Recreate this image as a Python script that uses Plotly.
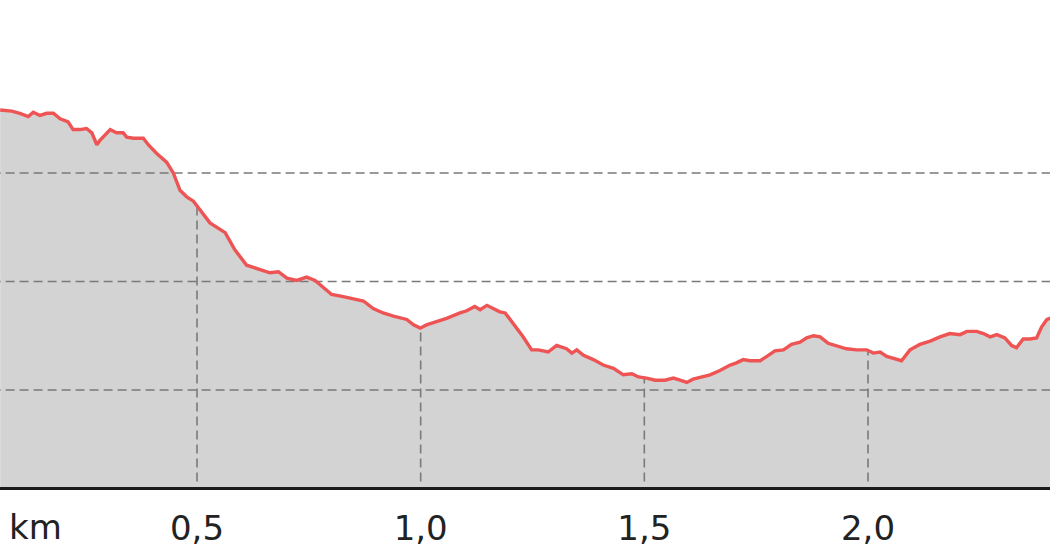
import numpy as np
import plotly.graph_objects as go

# Distance along the route (km) and elevation (m)
distance_km = [
    0.060, 0.086, 0.104, 0.123, 0.134, 0.149, 0.164, 0.179, 0.194, 0.212,
    0.223, 0.238, 0.253, 0.265, 0.276, 0.283, 0.306, 0.320, 0.335, 0.343,
    0.358, 0.380, 0.391, 0.410, 0.432, 0.447, 0.462, 0.477, 0.492, 0.507,
    0.529, 0.563, 0.585, 0.611, 0.633, 0.663, 0.682, 0.701, 0.723, 0.745,
    0.764, 0.782, 0.801, 0.827, 0.849, 0.872, 0.894, 0.916, 0.939, 0.969,
    0.984, 0.999, 1.013, 1.028, 1.058, 1.088, 1.103, 1.121, 1.133, 1.148,
    1.162, 1.177, 1.189, 1.207, 1.229, 1.248, 1.263, 1.285, 1.304, 1.326,
    1.338, 1.349, 1.364, 1.386, 1.408, 1.431, 1.453, 1.472, 1.487, 1.505,
    1.524, 1.546, 1.565, 1.580, 1.595, 1.609, 1.628, 1.647, 1.669, 1.692,
    1.706, 1.721, 1.736, 1.759, 1.774, 1.792, 1.811, 1.829, 1.848, 1.863,
    1.878, 1.893, 1.911, 1.930, 1.952, 1.975, 1.997, 2.012, 2.027, 2.042,
    2.057, 2.075, 2.094, 2.116, 2.139, 2.161, 2.183, 2.206, 2.221, 2.243,
    2.258, 2.273, 2.288, 2.306, 2.321, 2.332, 2.347, 2.362, 2.377, 2.388,
    2.400, 2.407, 2.420,
]
elevation_m = [
    55.8, 55.7, 55.5, 55.2, 55.6, 55.3, 55.5, 55.5, 55.0, 54.7,
    54.0, 54.0, 54.1, 53.7, 52.6, 53.0, 54.0, 53.7, 53.7, 53.3,
    53.2, 53.2, 52.6, 51.8, 51.0, 50.0, 48.4, 47.8, 47.4, 46.6,
    45.4, 44.5, 42.9, 41.5, 41.2, 40.8, 40.9, 40.3, 40.1, 40.4,
    40.1, 39.5, 38.8, 38.6, 38.4, 38.2, 37.5, 37.1, 36.8, 36.5,
    36.0, 35.7, 36.0, 36.2, 36.6, 37.1, 37.3, 37.7, 37.4, 37.8,
    37.5, 37.2, 37.1, 36.1, 34.9, 33.7, 33.7, 33.5, 34.1, 33.8,
    33.4, 33.7, 33.2, 32.8, 32.3, 32.0, 31.4, 31.5, 31.2, 31.1,
    30.9, 30.9, 31.1, 30.9, 30.7, 31.0, 31.2, 31.4, 31.8, 32.3,
    32.5, 32.8, 32.7, 32.7, 33.1, 33.6, 33.7, 34.2, 34.4, 34.8,
    35.0, 34.9, 34.3, 34.1, 33.8, 33.7, 33.7, 33.4, 33.5, 33.1,
    32.9, 32.7, 33.7, 34.2, 34.5, 34.9, 35.2, 35.1, 35.4, 35.4,
    35.2, 34.9, 35.1, 34.8, 34.1, 33.9, 34.7, 34.7, 34.8, 35.8,
    36.5, 36.6, 37.0,
]

x_tick_vals = [0.5, 1.0, 1.5, 2.0]
x_tick_text = ["0,5", "1,0", "1,5", "2,0"]
y_grid_vals = [30, 40, 50]
unit_label = "km"

X_RANGE = [0.0596, 2.4069]
Y_RANGE = [21.06, 65.94]

LINE_RED = "#ee5454"
FILL_GREY = "#d3d3d3"
GRID_GREY = "#7a7a7a"
TEXT = "#222222"
FONT = "DejaVu Sans"

fig = go.Figure()

# filled area under the profile
fig.add_trace(go.Scatter(
    x=distance_km, y=elevation_m, mode="lines",
    line=dict(width=0, color=FILL_GREY),
    fill="tozeroy", fillcolor=FILL_GREY,
    hoverinfo="skip", showlegend=False,
))

# horizontal dashed gridlines across the full width
for gy in y_grid_vals:
    fig.add_trace(go.Scatter(
        x=[X_RANGE[0] - 0.05, X_RANGE[1] + 0.05], y=[gy, gy], mode="lines",
        line=dict(color=GRID_GREY, width=1.6, dash="9px,5px"),
        hoverinfo="skip", showlegend=False,
    ))

# vertical dashed gridlines only beneath the profile
for gx in x_tick_vals:
    top = float(np.interp(gx, distance_km, elevation_m))
    fig.add_trace(go.Scatter(
        x=[gx, gx], y=[Y_RANGE[0] + 0.5, top], mode="lines",
        line=dict(color=GRID_GREY, width=1.6, dash="9px,5px"),
        hoverinfo="skip", showlegend=False,
    ))

# the elevation line
fig.add_trace(go.Scatter(
    x=distance_km, y=elevation_m, mode="lines",
    line=dict(color=LINE_RED, width=3.4),
    hoverinfo="skip", showlegend=False,
))

fig.update_layout(
    width=1050, height=560,
    margin=dict(l=0, r=0, t=0, b=73),
    paper_bgcolor="white", plot_bgcolor="white",
    font=dict(family=FONT, size=34, color=TEXT),
    xaxis=dict(
        range=X_RANGE, showgrid=False, zeroline=False,
        tickvals=x_tick_vals, ticktext=x_tick_text, ticks="",
        showline=True, linecolor="#1a1a1a", linewidth=3,
        tickfont=dict(family=FONT, size=34, color=TEXT),
        ticklabelstandoff=9,
    ),
    yaxis=dict(
        range=Y_RANGE, showgrid=False, zeroline=False,
        showticklabels=False, ticks="", showline=False,
    ),
    annotations=[dict(
        text=unit_label, xref="paper", yref="paper",
        x=35 / 1050, y=-40 / 487, xanchor="center", yanchor="middle",
        showarrow=False, font=dict(family=FONT, size=34, color=TEXT),
    )],
)

fig.write_html(
    "out.html",
    config={"displayModeBar": False},
    post_script="document.body.style.margin='0';document.body.style.overflow='hidden';",
)
